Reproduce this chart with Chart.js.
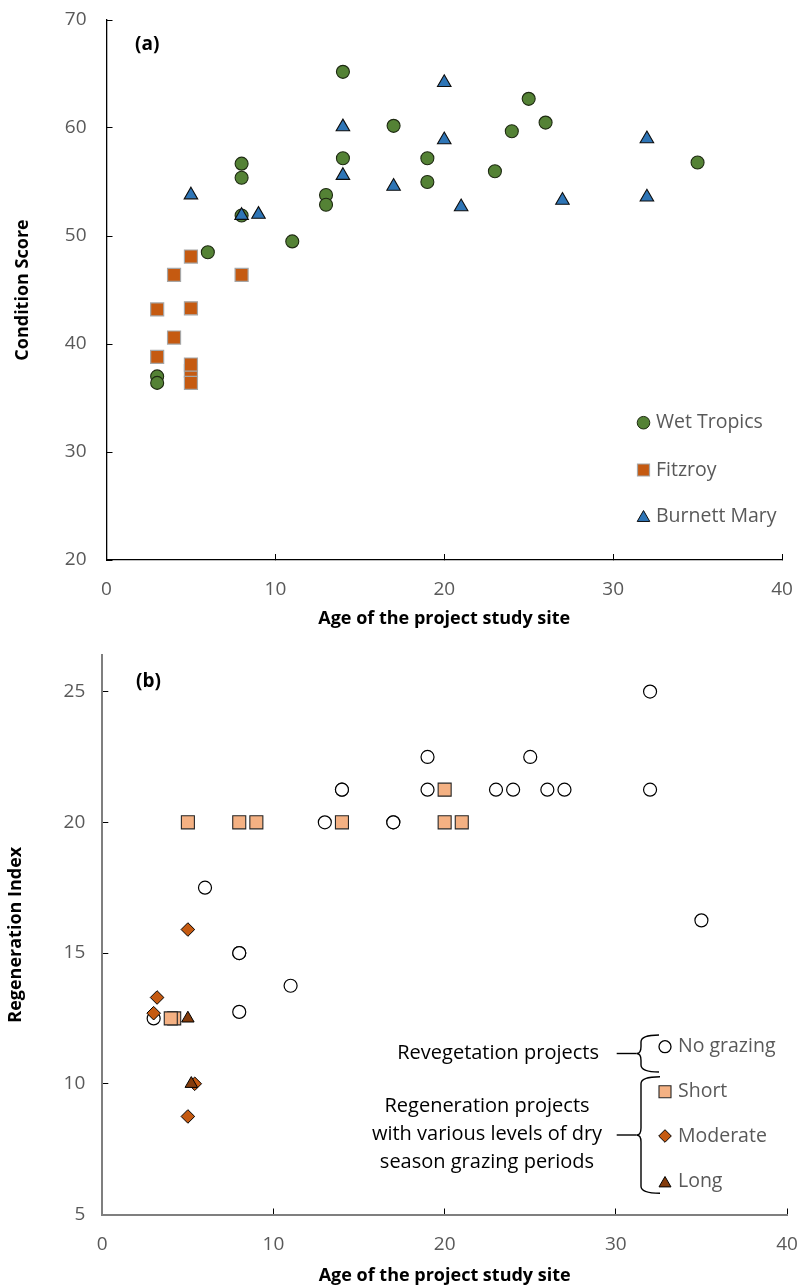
<!DOCTYPE html>
<html>
<head>
<meta charset="utf-8">
<script src="https://cdn.jsdelivr.net/npm/chart.js@4.4.1/dist/chart.umd.min.js"></script>
<style>
  html, body { margin: 0; padding: 0; background: #ffffff; }
  #wrap { position: relative; width: 800px; height: 1287px; overflow: hidden; }
  #c1 { position: absolute; left: 0; top: 0; }
  #c2 { position: absolute; left: 0; top: 640px; }
</style>
</head>
<body>
<div id="wrap">
  <canvas id="c1" width="800" height="640"></canvas>
  <canvas id="c2" width="800" height="647"></canvas>
</div>
<script>
// ---------- Panel (a): condition score by site age and region ----------
const ageWetTropics   = [3, 3, 6, 8, 8, 8, 11, 13, 13, 14, 14, 17, 19, 19, 23, 24, 25, 26, 35];
const scoreWetTropics = [37.0, 36.4, 48.5, 56.7, 55.4, 51.9, 49.5, 53.8, 52.9, 65.2, 57.2, 60.2, 57.2, 55.0, 56.0, 59.7, 62.7, 60.5, 56.8];

const ageFitzroy   = [3, 3, 4, 4, 5, 5, 5, 5, 5, 8];
const scoreFitzroy = [43.2, 38.8, 46.4, 40.6, 48.1, 43.3, 37.5, 38.1, 36.4, 46.4];

const ageBurnettMary   = [5, 8, 9, 14, 14, 17, 20, 20, 21, 27, 32, 32];
const scoreBurnettMary = [53.8, 51.9, 52.0, 60.1, 55.6, 54.6, 64.2, 58.9, 52.7, 53.3, 59.0, 53.6];

const conditionTicks = [20, 30, 40, 50, 60, 70];
const ageTicks = [0, 10, 20, 30, 40];

// ---------- Panel (b): regeneration index by site age and grazing ----------
const ageNoGrazing   = [3, 6, 8, 8, 8, 11, 13, 14, 14, 17, 17, 19, 19, 23, 24, 25, 26, 27, 32, 32, 35];
const indexNoGrazing = [12.5, 17.5, 15, 15, 12.75, 13.75, 20, 21.25, 21.25, 20, 20, 22.5, 21.25, 21.25, 21.25, 22.5, 21.25, 21.25, 25, 21.25, 16.25];

const ageShort   = [4.2, 4, 5, 8, 9, 14, 20, 20, 21];
const indexShort = [12.5, 12.5, 20, 20, 20, 20, 21.25, 20, 20];

const ageModerate   = [3, 3.2, 5, 5, 5.4];
const indexModerate = [12.7, 13.3, 15.9, 8.75, 10];

const ageLong   = [5, 5.2];
const indexLong = [12.5, 10];

const regenTicks = [5, 10, 15, 20, 25];

const FONT = "'Open Sans', 'Noto Sans', sans-serif";
const GREY_TEXT = '#595959';

function pairs(xs, ys) {
  return xs.map((x, i) => ({ x: x, y: ys[i] }));
}

// marker painter for the hand-placed legend keys
function marker(ctx, style, x, y, r, fill, stroke, lw) {
  ctx.save();
  ctx.beginPath();
  if (style === 'circle') {
    ctx.arc(x, y, r, 0, Math.PI * 2);
  } else if (style === 'rect') {
    ctx.rect(x - r, y - r, 2 * r, 2 * r);
  } else if (style === 'rectRot') {
    ctx.moveTo(x, y - r); ctx.lineTo(x + r, y); ctx.lineTo(x, y + r); ctx.lineTo(x - r, y); ctx.closePath();
  } else if (style === 'triangle') {
    const h = r * 1.732;
    ctx.moveTo(x, y - h / 2); ctx.lineTo(x + r, y + h / 2); ctx.lineTo(x - r, y + h / 2); ctx.closePath();
  }
  ctx.fillStyle = fill;
  ctx.fill();
  ctx.lineWidth = lw;
  ctx.strokeStyle = stroke;
  ctx.stroke();
  ctx.restore();
}

function text(ctx, str, x, y, font, color, align) {
  ctx.save();
  ctx.font = font;
  ctx.fillStyle = color;
  ctx.textAlign = align || 'left';
  ctx.textBaseline = 'middle';
  ctx.fillText(str, x, y);
  ctx.restore();
}

// left-pointing curly brace
function brace(ctx, xTip, xSpine, xEnd, yTop, yBot, lineFrom) {
  const yMid = (yTop + yBot) / 2;
  const r = 7;
  ctx.save();
  ctx.strokeStyle = '#000000';
  ctx.lineWidth = 1.4;
  ctx.beginPath();
  ctx.moveTo(xEnd, yTop);
  ctx.quadraticCurveTo(xSpine, yTop, xSpine, yTop + r);
  ctx.lineTo(xSpine, yMid - r);
  ctx.quadraticCurveTo(xSpine, yMid, xTip, yMid);
  ctx.quadraticCurveTo(xSpine, yMid, xSpine, yMid + r);
  ctx.lineTo(xSpine, yBot - r);
  ctx.quadraticCurveTo(xSpine, yBot, xEnd, yBot);
  ctx.stroke();
  ctx.beginPath();
  ctx.moveTo(lineFrom, yMid);
  ctx.lineTo(xTip, yMid);
  ctx.stroke();
  ctx.restore();
}

function fixedTicks(values) {
  return function (scale) {
    scale.ticks = values.map(v => ({ value: v }));
  };
}

// pin an axis box to a fixed thickness and drop the label overhang padding
function pin(size) {
  return function (s) {
    if (s.isHorizontal()) { s.height = size; } else { s.width = size; }
    s.paddingTop = 0; s.paddingBottom = 0; s.paddingLeft = 0; s.paddingRight = 0;
  };
}

const TITLE_FONT = { family: FONT, size: 18, weight: 'bold' };
const TICK_FONT = { family: FONT, size: 19 };

// ---------- chart (a) ----------
const panelA = {
  id: 'panelA',
  afterDraw(chart) {
    const ctx = chart.ctx;
    text(ctx, '(a)', 135, 45, 'bold 19px ' + FONT, '#000000');
    const keys = [
      ['circle', 'Wet Tropics', 422.7, '#548235', '#1e2a12', 1],
      ['rect', 'Fitzroy', 470, '#C55A11', '#a6a6a6', 1.2],
      ['triangle', 'Burnett Mary', 516, '#2E75B6', '#0d0d0d', 1]
    ];
    keys.forEach(k => {
      marker(ctx, k[0], 643.5, k[2], k[0] === 'rect' ? 6 : 6.3, k[3], k[4], k[5]);
      text(ctx, k[1], 656, k[2], '19.5px ' + FONT, GREY_TEXT);
    });
  }
};

new Chart(document.getElementById('c1'), {
  type: 'scatter',
  data: {
    datasets: [
      {
        label: 'Wet Tropics',
        data: pairs(ageWetTropics, scoreWetTropics),
        pointStyle: 'circle', pointRadius: 6.5,
        backgroundColor: '#548235', borderColor: '#1e2a12', borderWidth: 1.1,
        order: 3
      },
      {
        label: 'Fitzroy',
        data: pairs(ageFitzroy, scoreFitzroy),
        pointStyle: 'rect', pointRadius: 9.2,
        backgroundColor: '#C55A11', borderColor: '#a6a6a6', borderWidth: 1.2,
        order: 2
      },
      {
        label: 'Burnett Mary',
        data: pairs(ageBurnettMary, scoreBurnettMary),
        pointStyle: 'triangle', pointRadius: 7.8,
        backgroundColor: '#2E75B6', borderColor: '#0d0d0d', borderWidth: 1.1,
        order: 1
      }
    ]
  },
  options: {
    responsive: false,
    animation: false,
    layout: { padding: { top: 20, right: 18, left: 0, bottom: 0 } },
    plugins: { legend: { display: false }, tooltip: { enabled: false } },
    elements: { point: { hoverRadius: 6.5 } },
    scales: {
      x: {
        type: 'linear', min: 0, max: 40,
        afterBuildTicks: fixedTicks(ageTicks),
        afterFit: pin(80),
        grid: { drawOnChartArea: false, drawTicks: true, tickLength: -6, tickColor: '#000000', tickWidth: 1 },
        border: { color: '#000000', width: 1.3 },
        ticks: { padding: 24, color: GREY_TEXT, font: TICK_FONT },
        title: {
          display: true, text: 'Age of the project study site', color: '#000000',
          font: TITLE_FONT, padding: { top: 0, bottom: 10.2 }
        }
      },
      y: {
        type: 'linear', min: 20, max: 70,
        afterBuildTicks: fixedTicks(conditionTicks),
        afterFit: pin(106.5),
        grid: { drawOnChartArea: false, drawTicks: true, tickLength: -6, tickColor: '#000000', tickWidth: 1 },
        border: { color: '#000000', width: 1.3 },
        ticks: { padding: 26, color: GREY_TEXT, font: TICK_FONT },
        title: {
          display: true, text: 'Condition Score', color: '#000000',
          font: TITLE_FONT, padding: { top: 11.7, bottom: 0 }
        }
      }
    }
  },
  plugins: [panelA]
});

// ---------- chart (b) ----------
const panelB = {
  id: 'panelB',
  afterDraw(chart) {
    const ctx = chart.ctx;
    text(ctx, '(b)', 136, 41.5, 'bold 19px ' + FONT, '#000000');

    brace(ctx, 636.7, 641, 659, 395, 432, 616.7);
    brace(ctx, 636.7, 641, 660, 436.7, 553.3, 616.7);

    const groupFont = '20px ' + FONT;
    text(ctx, 'Revegetation projects', 599, 413, groupFont, '#000000', 'right');
    text(ctx, 'Regeneration projects', 487, 466, groupFont, '#000000', 'center');
    text(ctx, 'with various levels of dry', 487, 494.5, groupFont, '#000000', 'center');
    text(ctx, 'season grazing periods', 487, 522, groupFont, '#000000', 'center');

    const keys = [
      ['circle', 'No grazing', 406.7, '#ffffff', '#000000', 6, 1.3],
      ['rect', 'Short', 451.7, '#F4B183', '#262626', 6, 1.1],
      ['rectRot', 'Moderate', 496, '#C55A11', '#000000', 6.3, 1],
      ['triangle', 'Long', 541.7, '#843C0C', '#000000', 6, 1]
    ];
    keys.forEach(k => {
      marker(ctx, k[0], 665, k[2], k[5], k[3], k[4], k[6]);
      text(ctx, k[1], 678, k[2], '19.5px ' + FONT, GREY_TEXT);
    });
  }
};

new Chart(document.getElementById('c2'), {
  type: 'scatter',
  data: {
    datasets: [
      {
        label: 'No grazing',
        data: pairs(ageNoGrazing, indexNoGrazing),
        pointStyle: 'circle', pointRadius: 6.5,
        backgroundColor: '#ffffff', borderColor: '#000000', borderWidth: 1.2,
        order: 4
      },
      {
        label: 'Short',
        data: pairs(ageShort, indexShort),
        pointStyle: 'rect', pointRadius: 9.2,
        backgroundColor: '#F4B183', borderColor: '#262626', borderWidth: 1.1,
        order: 3
      },
      {
        label: 'Moderate',
        data: pairs(ageModerate, indexModerate),
        pointStyle: 'rectRot', pointRadius: 6.8,
        backgroundColor: '#C55A11', borderColor: '#000000', borderWidth: 1,
        order: 2
      },
      {
        label: 'Long',
        data: pairs(ageLong, indexLong),
        pointStyle: 'triangle', pointRadius: 7.2,
        backgroundColor: '#843C0C', borderColor: '#000000', borderWidth: 1,
        order: 1
      }
    ]
  },
  options: {
    responsive: false,
    animation: false,
    layout: { padding: { top: 15, right: 13, left: 0, bottom: 0 } },
    plugins: { legend: { display: false }, tooltip: { enabled: false } },
    scales: {
      x: {
        type: 'linear', min: 0, max: 40,
        afterBuildTicks: fixedTicks(ageTicks),
        afterFit: pin(72.5),
        grid: { drawOnChartArea: false, drawTicks: true, tickLength: -6, tickColor: '#000000', tickWidth: 1 },
        border: { color: '#7f7f7f', width: 2 },
        ticks: { padding: 24.7, color: GREY_TEXT, font: TICK_FONT },
        title: {
          display: true, text: 'Age of the project study site', color: '#000000',
          font: TITLE_FONT, padding: { top: 0, bottom: 0.5 }
        }
      },
      y: {
        type: 'linear', min: 5, max: 26.4,
        afterBuildTicks: fixedTicks(regenTicks),
        afterFit: pin(102.3),
        grid: { drawOnChartArea: false, drawTicks: true, tickLength: -6, tickColor: '#000000', tickWidth: 1 },
        border: { color: '#7f7f7f', width: 2 },
        ticks: { padding: 23, color: GREY_TEXT, font: TICK_FONT },
        title: {
          display: true, text: 'Regeneration Index', color: '#000000',
          font: TITLE_FONT, padding: { top: 5.2, bottom: 0 }
        }
      }
    }
  },
  plugins: [panelB]
});
</script>
</body>
</html>
